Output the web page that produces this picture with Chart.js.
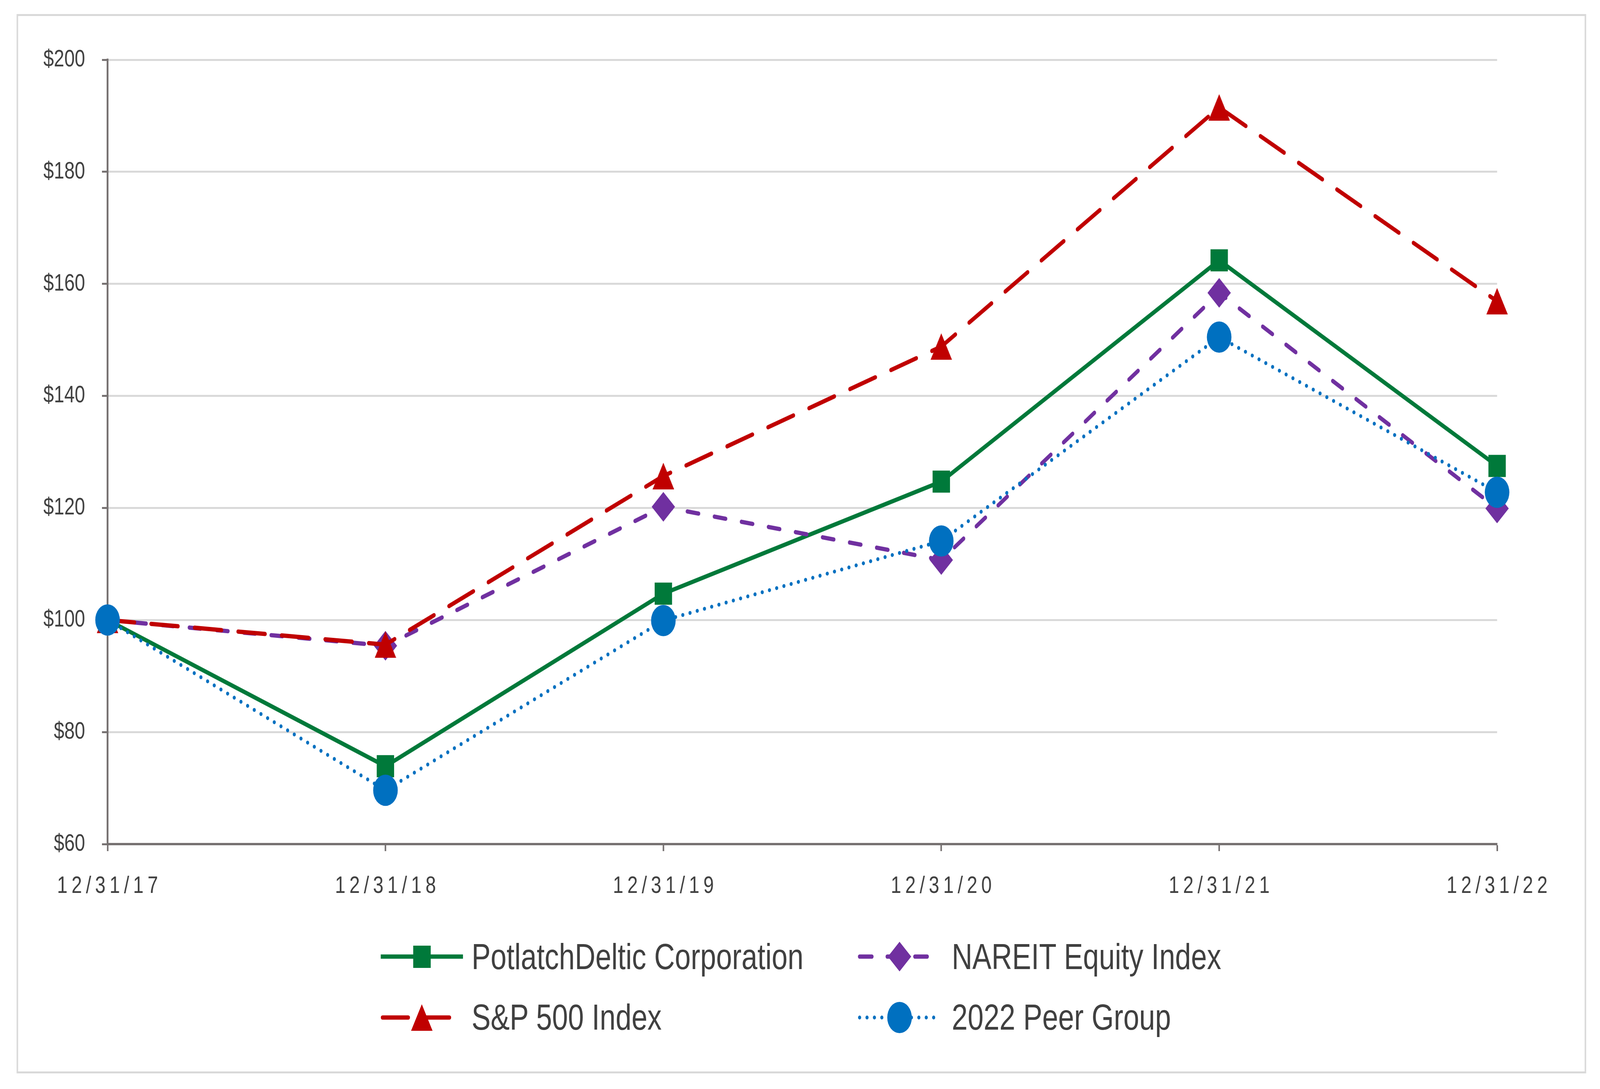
<!DOCTYPE html>
<html>
<head>
<meta charset="utf-8">
<script src="https://cdn.jsdelivr.net/npm/chart.js@4.4.1/dist/chart.umd.min.js"></script>
<style>
  html, body { margin: 0; padding: 0; background: #fff; overflow: hidden; }
  #page { width: 5208px; height: 2788px; position: absolute; left: 0; top: 0; transform-origin: 0 0; font-family: "Liberation Sans", Arial, sans-serif; }
  #frame { position: absolute; left: 54px; top: 36px; width: 5109px; height: 2712px; border: 5px solid #d9d9d9; box-sizing: border-box; }
  #chart { position: absolute; left: 0; top: 0; width: 5208px; height: 2788px; }
  .swatch { position: absolute; }
  .label { position: absolute; font-size: 93px; line-height: 93px; color: #404040; white-space: nowrap; }
</style>
</head>
<body>
<div id="page">
<div id="frame"></div>
<canvas id="chart" width="5208" height="2788"></canvas>

<svg class="swatch" style="left:1239px; top:2404px" width="270" height="90">
  <line x1="0" y1="45" x2="268" y2="45" stroke="#00793A" stroke-width="11"/>
  <rect x="106" y="17" width="57" height="57" fill="#00793A"/>
</svg>
<div class="label" style="left:1535px; top:2403px">PotlatchDeltic Corporation</div>

<svg class="swatch" style="left:2792px; top:2404px" width="272" height="90">
  <line x1="6" y1="45" x2="266" y2="45" stroke="#7030A0" stroke-width="11" stroke-linecap="round" stroke-dasharray="40 50"/>
  <polygon points="136,7 174,45 136,83 98,45" fill="#7030A0"/>
</svg>
<div class="label" style="left:3098px; top:2403px">NAREIT Equity Index</div>

<svg class="swatch" style="left:1239px; top:2560px" width="270" height="90">
  <line x1="6" y1="45" x2="262" y2="45" stroke="#C00000" stroke-width="11" stroke-linecap="round" stroke-dasharray="84 50"/>
  <polygon points="134,11 169,79 99,79" fill="#C00000"/>
</svg>
<div class="label" style="left:1535px; top:2558px">S&amp;P 500 Index</div>

<svg class="swatch" style="left:2792px; top:2560px" width="272" height="90">
  <line x1="6" y1="45" x2="266" y2="45" stroke="#0070C0" stroke-width="10" stroke-linecap="round" stroke-dasharray="0.1 24"/>
  <circle cx="136" cy="45" r="40" fill="#0070C0"/>
</svg>
<div class="label" style="left:3098px; top:2558px">2022 Peer Group</div>
</div>

<script>
// cumulative total return, $100 invested 12/31/17
const dates = ['12/31/17', '12/31/18', '12/31/19', '12/31/20', '12/31/21', '12/31/22'];
const potlatch = [100, 73.9, 104.7, 124.7, 164.2, 127.5];
const nareit = [100, 95.4, 120.2, 110.7, 158.4, 119.9];
const sp500 = [100, 95.6, 125.7, 148.8, 191.5, 156.9];
const peer = [100, 69.6, 99.9, 114.1, 150.5, 122.8];

const axisGray = '#767171';
const gridGray = '#d9d9d9';
const textGray = '#404040';

// the viewport can come out smaller than 5208x2788, so stretch the page onto it
const page = document.getElementById('page');
page.style.transform = 'scale(' + (window.innerWidth / 5208) + ',' + (window.innerHeight / 2788) + ')';

// excel style triangle, centred on its box
const tri = document.createElement('canvas');
tri.width = 70;
tri.height = 68;
const tctx = tri.getContext('2d');
tctx.fillStyle = '#C00000';
tctx.beginPath();
tctx.moveTo(35, 0);
tctx.lineTo(70, 68);
tctx.lineTo(0, 68);
tctx.closePath();
tctx.fill();

// spaced out x labels like the original
const spacedLabels = {
  id: 'spacedLabels',
  beforeDraw(chart) {
    const s = chart.scales.x;
    if (s._spaced) return;
    const orig = s.drawLabels;
    s.drawLabels = function (area) {
      const ctx = this.ctx;
      ctx.save();
      ctx.letterSpacing = '13px';
      ctx.translate(6.5, 0);
      orig.call(this, area);
      ctx.restore();
    };
    s._spaced = true;
  },
};

const ctx = document.getElementById('chart').getContext('2d');

new Chart(ctx, {
  type: 'line',
  data: {
    labels: dates,
    datasets: [
      {
        label: 'PotlatchDeltic Corporation',
        data: potlatch,
        borderColor: '#00793A',
        backgroundColor: '#00793A',
        borderWidth: 11,
        pointStyle: 'rect',
        pointRadius: 40,
        pointBorderWidth: 0,
        order: 4,
      },
      {
        label: 'NAREIT Equity Index',
        data: nareit,
        borderColor: '#7030A0',
        backgroundColor: '#7030A0',
        borderWidth: 11,
        borderDash: [37, 52],
        borderCapStyle: 'round',
        pointStyle: 'rectRot',
        pointRadius: 38,
        pointBorderWidth: 0,
        order: 3,
      },
      {
        label: 'S&P 500 Index',
        data: sp500,
        borderColor: '#C00000',
        backgroundColor: '#C00000',
        borderWidth: 11,
        borderDash: [88, 54],
        borderCapStyle: 'round',
        pointStyle: tri,
        pointRadius: 35,
        pointBorderWidth: 0,
        order: 2,
      },
      {
        label: '2022 Peer Group',
        data: peer,
        borderColor: '#0070C0',
        backgroundColor: '#0070C0',
        borderWidth: 10,
        borderDash: [0.1, 24],
        borderCapStyle: 'round',
        pointStyle: 'circle',
        pointRadius: 40,
        pointBorderWidth: 0,
        order: 1,
      },
    ],
  },
  options: {
    responsive: false,
    maintainAspectRatio: false,
    devicePixelRatio: 1,
    animation: false,
    clip: false,
    elements: {
      line: { tension: 0, fill: false },
    },
    layout: {
      padding: { left: 0, top: 153, right: 335, bottom: 477 },
    },
    scales: {
      x: {
        offset: false,
        afterFit: (s) => { s.height = 150; },
        grid: {
          display: true,
          drawOnChartArea: false,
          tickLength: 18,
          tickColor: axisGray,
          tickWidth: 5,
        },
        border: { display: true, color: axisGray, width: 6 },
        ticks: {
          color: textGray,
          padding: 54,
          maxRotation: 0,
          font: { family: '"Liberation Sans", Arial, sans-serif', size: 61 },
        },
      },
      y: {
        min: 60,
        max: 200,
        afterFit: (s) => { s.width = 350; },
        grid: {
          color: gridGray,
          lineWidth: 5,
          tickLength: 18,
          tickColor: axisGray,
          tickWidth: 5,
        },
        border: { display: true, color: axisGray, width: 6 },
        ticks: {
          stepSize: 20,
          color: textGray,
          padding: 55,
          font: { family: '"Liberation Sans", Arial, sans-serif', size: 61 },
          callback: (v) => '$' + v,
        },
      },
    },
    plugins: {
      legend: { display: false },
      tooltip: { enabled: false },
    },
  },
  plugins: [spacedLabels],
});
</script>
</body>
</html>
